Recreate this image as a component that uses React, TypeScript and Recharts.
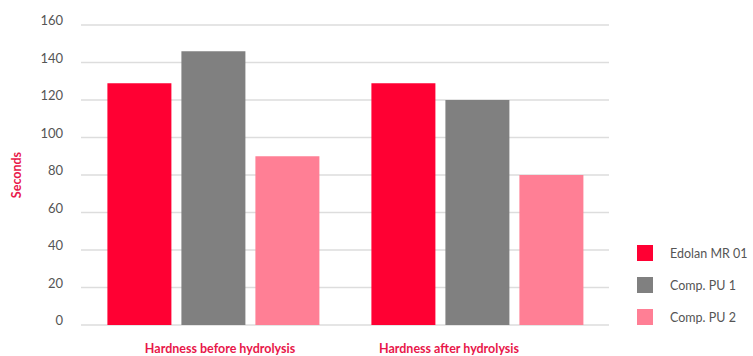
import React from "react";
import { BarChart, Bar, XAxis, YAxis, CartesianGrid } from "recharts";

const categories = ["Hardness before hydrolysis", "Hardness after hydrolysis"];
const edolan = [129, 129];
const pu1 = [146, 120];
const pu2 = [90, 80];
const yTicks = [0, 20, 40, 60, 80, 100, 120, 140, 160];

const seriesNames = ["Edolan MR 01", "Comp. PU 1", "Comp. PU 2"];
const COLORS = ["#ff0033", "#808080", "#ff7f95"];
const RED = "#e8174a";
const FONT = "Lato, 'Open Sans', sans-serif";
const LABEL_SHIFT = [7, -28];

const data = categories.map((c, i) => ({
  name: c,
  s0: edolan[i],
  s1: pu1[i],
  s2: pu2[i],
}));

const XTick = (props: any) => {
  const { x, y, payload, index } = props;
  return (
    <text
      x={x + (LABEL_SHIFT[index] || 0)}
      y={y + 1}
      dy="0.71em"
      textAnchor="middle"
      fill={RED}
      fontSize={12.5}
      fontWeight={700}
      fontFamily={FONT}
    >
      {payload.value}
    </text>
  );
};

const YTick = (props: any) => {
  const { x, y, payload } = props;
  return (
    <text
      x={x}
      y={y}
      dy={0}
      textAnchor="end"
      fill="#555"
      fontSize={13}
      fontFamily={FONT}
    >
      {payload.value}
    </text>
  );
};

const LegendBox = () => (
  <div style={{ position: "absolute", left: 637, top: 237, width: 116, fontFamily: FONT }}>
    {seriesNames.map((n, i) => (
      <div key={n} style={{ display: "flex", alignItems: "center", height: 32 }}>
        <div style={{ width: 16, height: 16, background: COLORS[i], marginRight: 17 }} />
        <span style={{ fontSize: 12.5, color: "#555" }}>{n}</span>
      </div>
    ))}
  </div>
);

export default function App() {
  return (
    <div style={{ position: "absolute", left: 0, top: 0, width: 753, height: 356 }}>
      <BarChart
        width={753}
        height={356}
        data={data}
        margin={{ top: 25, right: 144, bottom: 0, left: 0 }}
        barCategoryGap="10%"
        barGap={10}
      >
        <CartesianGrid horizontal vertical={false} stroke="#dddddd" strokeWidth={1.5} />
        <YAxis
          width={81}
          domain={[0, 160]}
          ticks={yTicks}
          axisLine={false}
          tickLine={false}
          tickMargin={12}
          tick={<YTick />}
          label={{
            value: "Seconds",
            angle: -90,
            position: "insideLeft",
            dx: 12,
            fill: RED,
            fontSize: 12.5,
            fontWeight: 700,
            fontFamily: FONT,
            style: { textAnchor: "middle" },
          }}
        />
        <XAxis
          dataKey="name"
          height={31}
          axisLine={false}
          tickLine={false}
          tickMargin={12}
          tick={<XTick />}
          interval={0}
        />
        <Bar dataKey="s0" name={seriesNames[0]} fill={COLORS[0]} isAnimationActive={false} />
        <Bar dataKey="s1" name={seriesNames[1]} fill={COLORS[1]} isAnimationActive={false} />
        <Bar dataKey="s2" name={seriesNames[2]} fill={COLORS[2]} isAnimationActive={false} />
      </BarChart>
      <LegendBox />
    </div>
  );
}
